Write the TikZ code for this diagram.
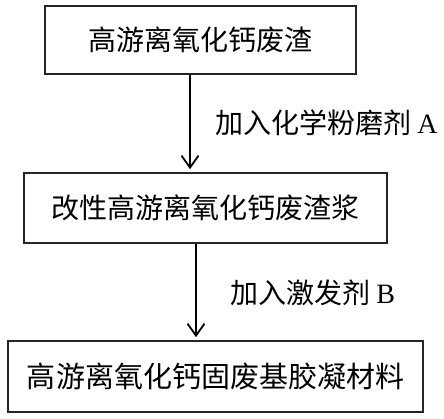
\documentclass[tikz,border=0pt]{standalone}
\usepackage{fontspec}
\setmainfont{Liberation Serif}
\newfontfamily\cjk{Noto Sans CJK SC}
\usetikzlibrary{arrows.meta}
\tikzset{
  box/.style={draw=black!85, line width=1.6pt, minimum height=#1, inner sep=0pt, font=\cjk\fontsize{28}{33}\selectfont},
  arr/.style={line width=1.8pt, -{Straight Barb[length=12pt,width=17pt,line width=1.8pt]}},
  lbl/.style={anchor=west, inner sep=0pt, font=\cjk\fontsize{28}{33}\selectfont}
}
\begin{document}
\begin{tikzpicture}[x=1pt,y=1pt]
\useasboundingbox[fill=white] (0,0) rectangle (444,419);
\node[box=68pt, minimum width=311pt] (b1) at (200.5,379) {高游离氧化钙废渣};
\node[box=70pt, minimum width=363pt] (b2) at (205.5,211) {改性高游离氧化钙废渣浆};
\node[box=71pt, minimum width=415pt, font=\cjk\fontsize{29}{34}\selectfont] (b3) at (215.5,42.5) {高游离氧化钙固废基胶凝材料};
\coordinate (c1) at (190,0);
\coordinate (c2) at (196,0);
\draw[arr] (b1.south -| c1) -- ([yshift=3pt]b2.north -| c1);
\draw[arr] (b2.south -| c2) -- ([yshift=3pt]b3.north -| c2);
\node[lbl] (la) at (215,296) {加入化学粉磨剂 {\rmfamily A}};
\node[lbl] (lb) at (230,126) {加入激发剂 {\rmfamily B}};
\end{tikzpicture}
\end{document}
